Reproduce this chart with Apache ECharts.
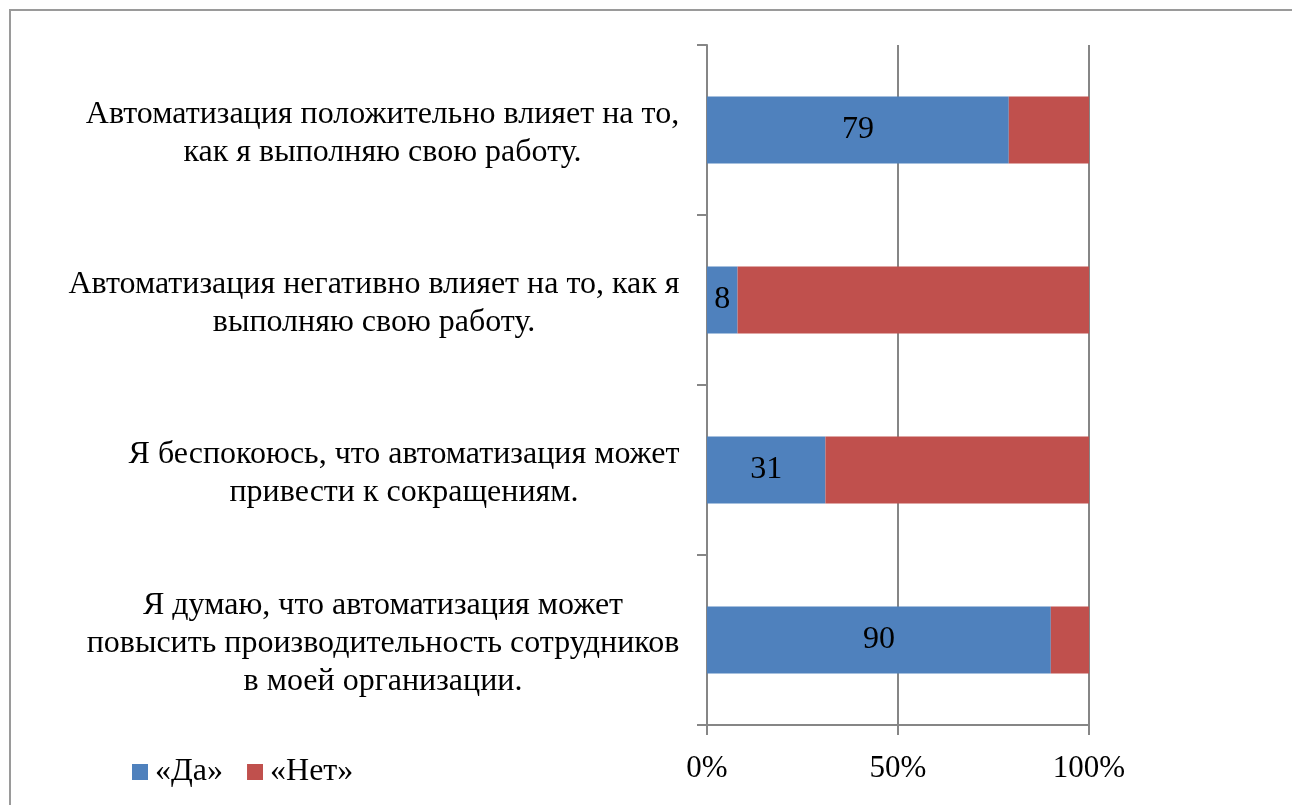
<!DOCTYPE html>
<html><head><meta charset="utf-8">
<script src="https://cdn.jsdelivr.net/npm/echarts@6/dist/echarts.min.js"></script>
<style>html,body{margin:0;padding:0;background:#fff}#c{width:1292px;height:805px}</style>
</head><body><div id="c"></div>
<script>
var categories = [
  'Автоматизация положительно влияет на то,\nкак я выполняю свою работу.',
  'Автоматизация негативно влияет на то, как я\nвыполняю свою работу.',
  'Я беспокоюсь, что автоматизация может\nпривести к сокращениям.',
  'Я думаю, что автоматизация может\nповысить производительность сотрудников\nв моей организации.'
];
var yesValues = [79, 8, 31, 90];
var noValues = [21, 92, 69, 10];
var seriesNames = ['«Да»', '«Нет»'];
var xTicks = [0, 50, 100];

var FONT = '"Liberation Serif", "Times New Roman", serif';
var FS = 32;
var canvas = document.createElement('canvas');
var ctx = canvas.getContext('2d');
ctx.font = FS + 'px ' + FONT;
var rich = {};
categories.forEach(function (c, i) {
  var w = 0;
  c.split('\n').forEach(function (l) { w = Math.max(w, ctx.measureText(l).width); });
  rich['r' + i] = { width: Math.ceil(w) + 1, align: 'center', fontFamily: FONT, fontSize: FS, lineHeight: 38, color: '#000' };
});

var chart = echarts.init(document.getElementById('c'));
chart.setOption({
  animation: false,
  backgroundColor: '#fff',
  graphic: [{ type: 'rect', shape: { x: 10, y: 10, width: 1400, height: 900 }, style: { fill: 'none', stroke: '#9a9a9a', lineWidth: 2 }, silent: true, z: -1 }],
  grid: { left: 707, right: 203, top: 45, bottom: 80, containLabel: false },
  legend: {
    left: 127, top: 751, itemWidth: 16, itemHeight: 16, itemGap: 24,
    icon: 'rect',
    textStyle: { fontFamily: FONT, fontSize: FS, color: '#000', padding: [0, 0, 0, 2] },
    data: seriesNames
  },
  xAxis: {
    type: 'value', min: 0, max: 100, interval: 50,
    axisLine: { show: true, lineStyle: { color: '#868686', width: 2 } },
    axisTick: { show: true, length: 10, lineStyle: { color: '#868686', width: 2 } },
    splitLine: { show: true, lineStyle: { color: '#868686', width: 2 } },
    axisLabel: { margin: 28, fontFamily: FONT, fontSize: 31, color: '#000', formatter: function (v) { return v + '%'; } }
  },
  yAxis: {
    type: 'category', inverse: true, data: categories,
    axisLine: { show: true, lineStyle: { color: '#868686', width: 2 } },
    axisTick: { show: true, length: 10, lineStyle: { color: '#868686', width: 2 } },
    axisLabel: {
      margin: 27,
      padding: [7, 0, 0, 0],
      formatter: function (v, idx) {
        return v.split('\n').map(function (l) { return '{r' + idx + '|' + l + '}'; }).join('\n');
      },
      rich: rich
    }
  },
  series: [
    { name: seriesNames[0], type: 'bar', stack: 's', data: yesValues, barWidth: 67,
      itemStyle: { color: '#4F81BD' },
      label: { show: true, position: 'inside', color: '#000', fontFamily: FONT, fontSize: FS, padding: [4, 0, 0, 0] } },
    { name: seriesNames[1], type: 'bar', stack: 's', data: noValues, barWidth: 67,
      itemStyle: { color: '#C0504D' } }
  ]
});
</script></body></html>
